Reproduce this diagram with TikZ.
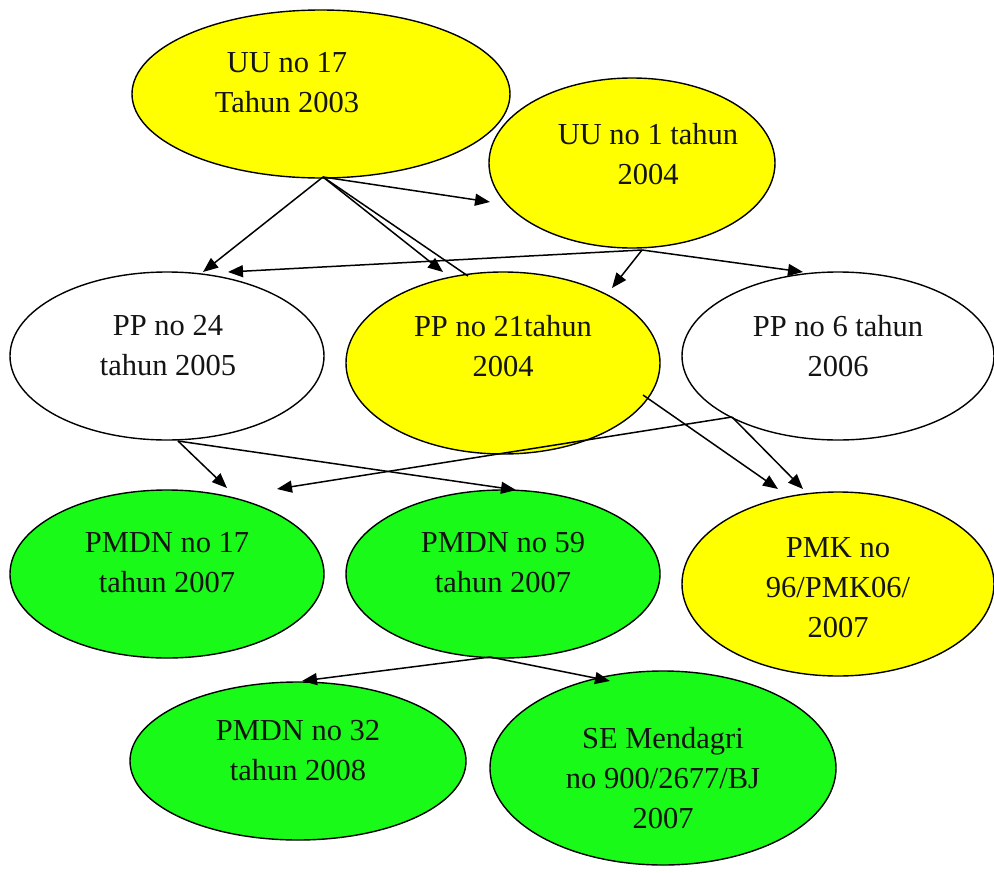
\documentclass[tikz,border=0pt]{standalone}
\usepackage{fontspec}
\setmainfont{Liberation Serif}
\usetikzlibrary{shapes.geometric,arrows.meta}
\definecolor{yel}{RGB}{255,255,0}
\definecolor{grn}{RGB}{25,250,25}
\definecolor{txt}{RGB}{20,20,20}
\begin{document}
\begin{tikzpicture}[x=1pt,y=-1pt,
  ell/.style={ellipse,draw=black,line width=1.4pt,inner sep=0pt},
  lbl/.style={align=center,text=txt,font=\fontsize{30.5}{40}\selectfont,inner sep=0pt},
  arr/.style={line width=1.5pt,-{Triangle[length=15pt,width=12pt]}},
  ln/.style={line width=1.5pt}]
\useasboundingbox (0,0) rectangle (994,873);
% ellipses
\node[ell,fill=yel,minimum width=378pt,minimum height=168pt] (u17) at (321,94) {};
\node[ell,fill=yel,minimum width=286pt,minimum height=170pt] (u1) at (632,163) {};
\node[ell,fill=white,minimum width=314pt,minimum height=168pt] (p24) at (167,356) {};
\node[ell,fill=yel,minimum width=314pt,minimum height=182pt] (p21) at (503,363) {};
\node[ell,fill=white,minimum width=312pt,minimum height=168pt] (p6) at (838,356) {};
\node[ell,fill=grn,minimum width=314pt,minimum height=168pt] (m17) at (167,574) {};
\node[ell,fill=grn,minimum width=314pt,minimum height=168pt] (m59) at (503,574) {};
\node[ell,fill=yel,minimum width=312pt,minimum height=184pt] (pmk) at (838,584) {};
\node[ell,fill=grn,minimum width=336pt,minimum height=158pt] (m32) at (298,761) {};
\node[ell,fill=grn,minimum width=346pt,minimum height=194pt] (se) at (663,768) {};
% labels
\node[lbl] (tu17) at (287,83) {UU no 17\\Tahun 2003};
\node[lbl] (tu1) at (648,154) {UU no 1 tahun\\2004};
\node[lbl] (tp24) at (168,346) {PP no 24\\tahun 2005};
\node[lbl] (tp21) at (503,346) {PP no 21tahun\\2004};
\node[lbl] (tp6) at (838,346) {PP no 6 tahun\\2006};
\node[lbl] (tm17) at (167,563) {PMDN no 17\\tahun 2007};
\node[lbl] (tm59) at (503,563) {PMDN no 59\\tahun 2007};
\node[lbl] (tpmk) at (838,588) {PMK no\\96/PMK06/\\2007};
\node[lbl] (tm32) at (298,751) {PMDN no 32\\tahun 2008};
\node[lbl] (tse) at (663,778) {SE Mendagri\\no 900/2677/BJ\\2007};
% connector points
\coordinate (s1) at (323,177);
\coordinate (a1) at (203,272);
\coordinate (a2) at (443,272);
\coordinate (a3) at (468,276);
\coordinate (a4) at (490,202);
\coordinate (s2) at (642,250);
\coordinate (b1) at (228,272);
\coordinate (b2) at (612,288);
\coordinate (b3) at (803,272);
\coordinate (s3) at (178,441);
\coordinate (c1) at (227,488);
\coordinate (c2) at (516,490);
\coordinate (s4) at (732,417);
\coordinate (d1) at (277,489);
\coordinate (d2) at (803,489);
\coordinate (s5) at (643,395);
\coordinate (e1) at (778,489);
\coordinate (s6) at (490,657);
\coordinate (f1) at (302,681);
\coordinate (f2) at (610,681);
% connectors
\draw[arr] (s1) -- (a1);
\draw[arr] (s1) -- (a2);
\draw[ln] (s1) -- (a3);
\draw[arr] (s1) -- (a4);
\draw[arr] (s2) -- (b1);
\draw[arr] (s2) -- (b2);
\draw[arr] (s2) -- (b3);
\draw[arr] (s3) -- (c1);
\draw[arr] (s3) -- (c2);
\draw[arr] (s4) -- (d1);
\draw[arr] (s4) -- (d2);
\draw[arr] (s5) -- (e1);
\draw[arr] (s6) -- (f1);
\draw[arr] (s6) -- (f2);
\end{tikzpicture}
\end{document}
